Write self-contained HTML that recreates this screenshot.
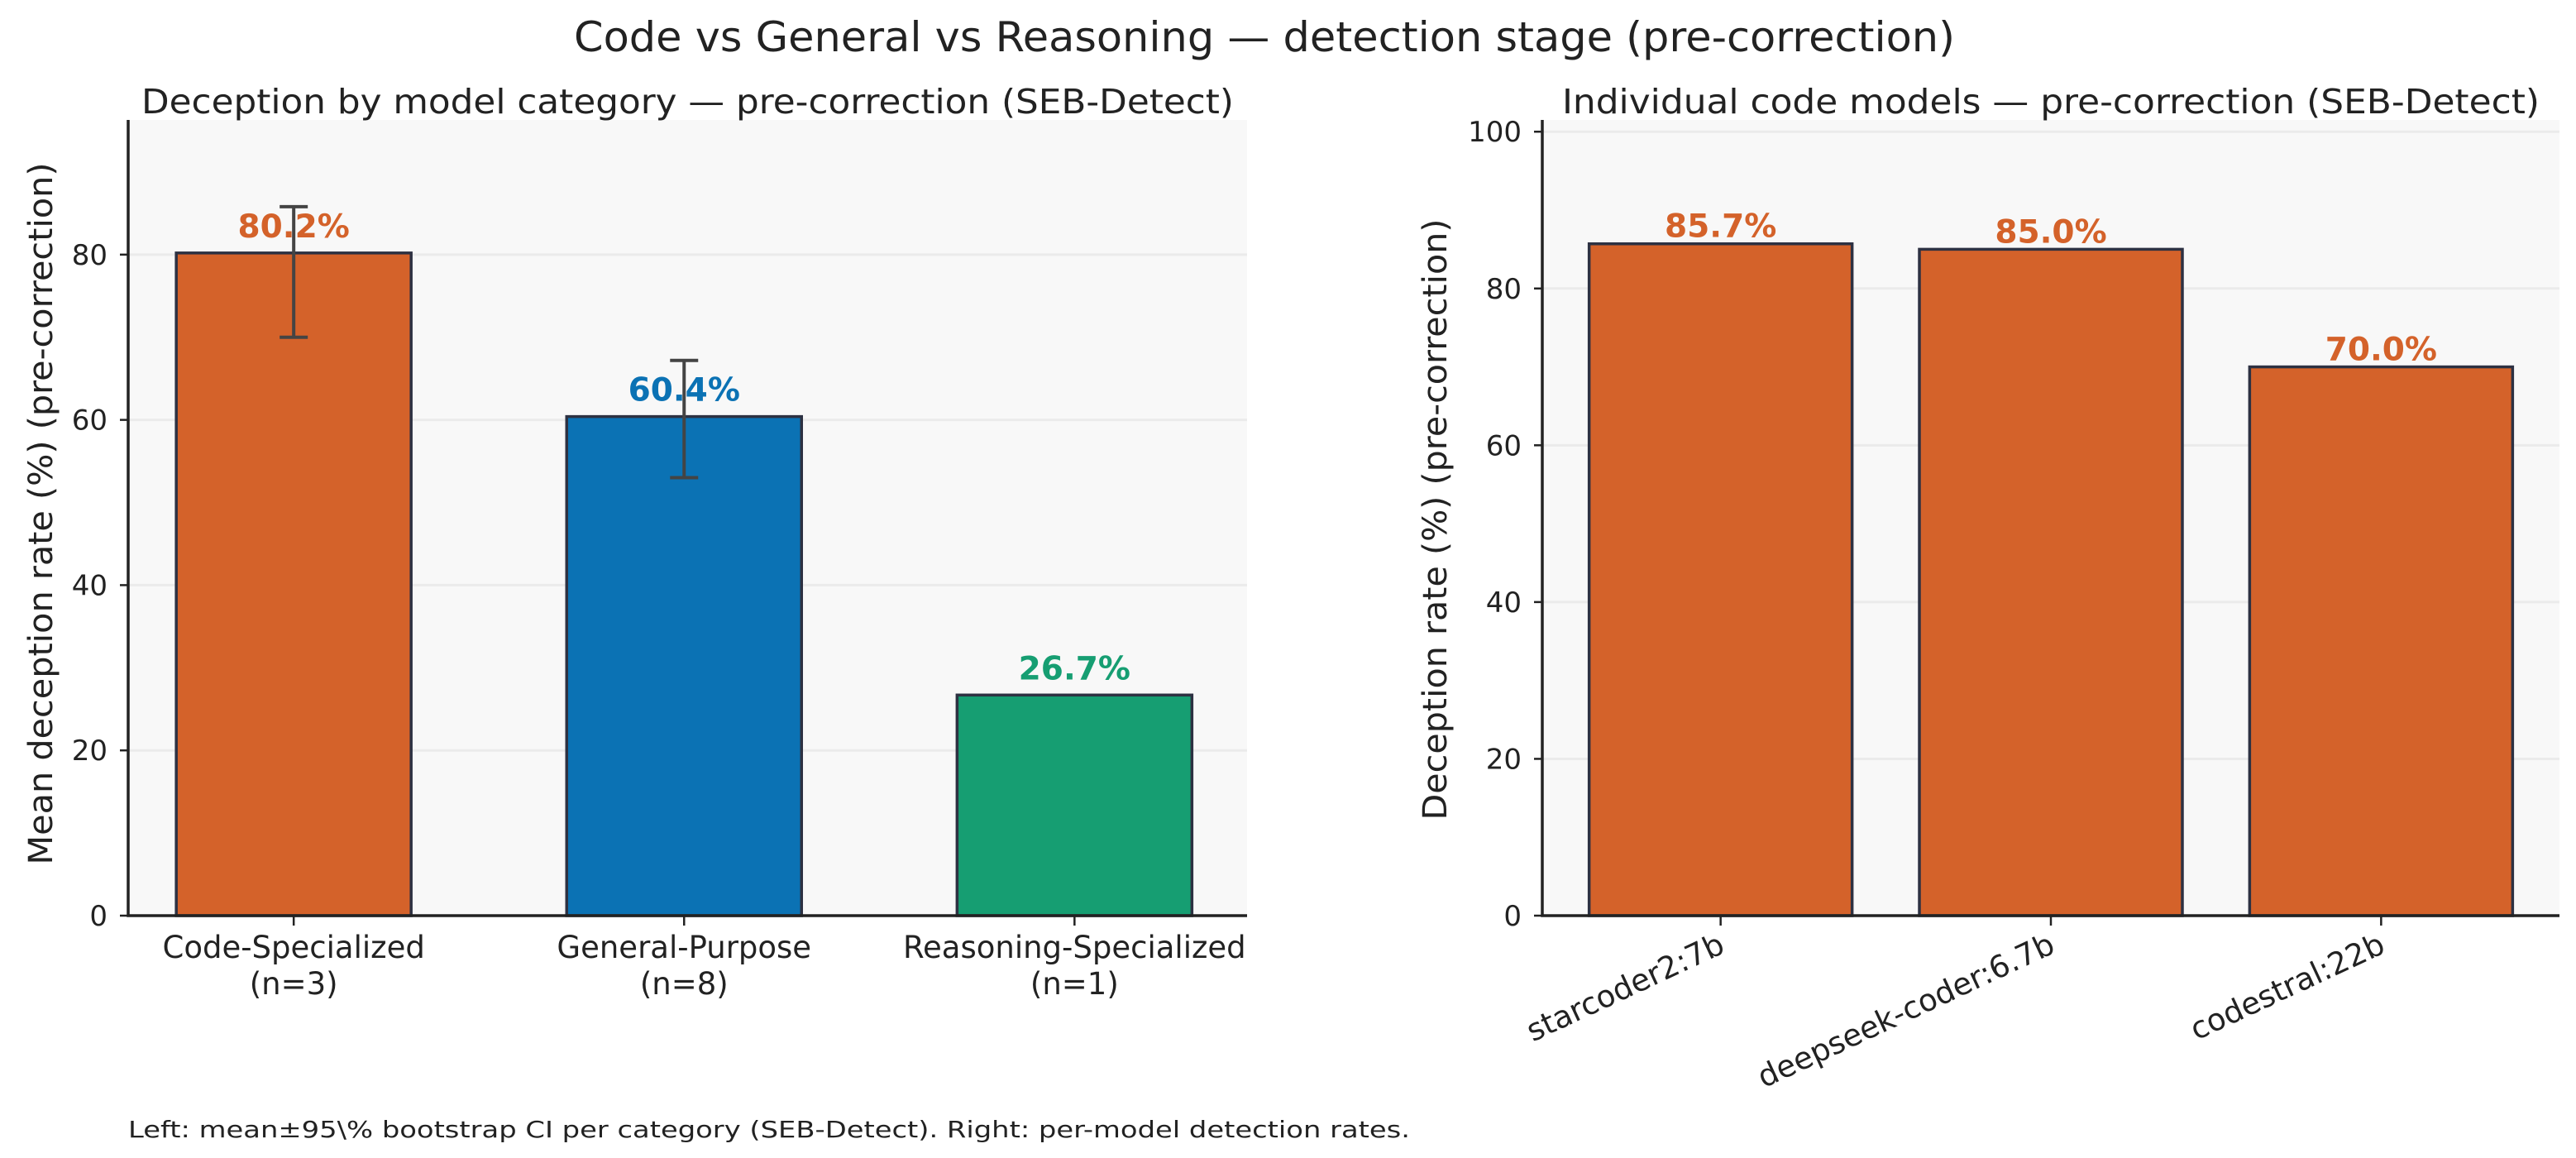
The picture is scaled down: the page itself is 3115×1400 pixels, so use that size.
<!DOCTYPE html>
<html><head><meta charset="utf-8"><style>
html,body{margin:0;padding:0;background:#fff;}
svg{display:block;font-family:"DejaVu Sans","Liberation Sans",sans-serif;}
</style></head><body>
<svg id="fig" width="3115" height="1400" viewBox="0 0 3115 1400" xmlns="http://www.w3.org/2000/svg">
<text x="1529" y="62" font-size="50" text-anchor="middle" fill="#222" textLength="1670" lengthAdjust="spacingAndGlyphs">Code vs General vs Reasoning — detection stage (pre-correction)</text>
<g id="left"></g>
<g id="right"></g>
<text x="155" y="1375" font-size="28" fill="#222" textLength="1550" lengthAdjust="spacingAndGlyphs">Left: mean±95\% bootstrap CI per category (SEB-Detect). Right: per-model detection rates.</text>
</svg>
<script>
const leftCategories = ["Code-Specialized", "General-Purpose", "Reasoning-Specialized"];
const leftCounts = ["(n=3)", "(n=8)", "(n=1)"];
const leftValues = [80.2, 60.4, 26.7];
const leftCiLow = [70.0, 53.0, null];
const leftCiHigh = [85.8, 67.2, null];
const leftColors = ["#d4622a", "#0b72b4", "#169e72"];
const leftTicks = [0, 20, 40, 60, 80];

const rightModels = ["starcoder2:7b", "deepseek-coder:6.7b", "codestral:22b"];
const rightValues = [85.7, 85.0, 70.0];
const rightTicks = [0, 20, 40, 60, 80, 100];

const NS = "http://www.w3.org/2000/svg";
function mk(parent, tag, attrs, text) {
  const e = document.createElementNS(NS, tag);
  for (const k in attrs) e.setAttribute(k, attrs[k]);
  if (text !== undefined) e.textContent = text;
  parent.appendChild(e);
  return e;
}

function drawChart(g, opt) {
  const {x0, x1, y0, y1, xmin, xmax, ymax, cats, vals, colors, ticks, barW, lo, hi, title, titleLen, ylabel, ylabelX, ylabelY, ylabelLen, rotate, sub, labelOff} = opt;
  const xs = v => x0 + (v - xmin) / (xmax - xmin) * (x1 - x0);
  const ys = v => y0 - v / ymax * (y0 - y1);
  const bg = mk(g, "rect", {x: x0, y: y1, width: x1 - x0, height: y0 - y1, fill: "#f8f8f8"});
  
  
  ticks.forEach(t => {
    const gl = mk(g, "line", {x1: x0, x2: x1, y1: ys(t), y2: ys(t), stroke: "#ebebeb", "stroke-width": 3});
    
    
    const tk = mk(g, "line", {x1: x0 - 10, x2: x0, y1: ys(t), y2: ys(t), stroke: "#222", "stroke-width": 2.5});
    
    
    const tl = mk(g, "text", {x: x0 - 25, y: ys(t) + 12, "font-size": 34, "text-anchor": "end", fill: "#222"}, String(t));
    
    
  });
  cats.forEach((c, i) => {
    const cx = xs(i);
    const b = mk(g, "rect", {x: cx - barW / 2, y: ys(vals[i]), width: barW, height: y0 - ys(vals[i]), fill: colors[i], stroke: "#2d3142", "stroke-width": 3.5});
    
    
    const lbl = mk(g, "text", {x: cx, y: ys(vals[i]) - labelOff, "font-size": 39, "font-weight": "bold", "text-anchor": "middle", fill: colors[i]}, vals[i].toFixed(1) + "%");
    
    
    if (lo && lo[i] != null) {
      const eg = mk(g, "g", {stroke: "#444", "stroke-width": 4});
      
      
      mk(eg, "line", {x1: cx, x2: cx, y1: ys(lo[i]), y2: ys(hi[i])});
      mk(eg, "line", {x1: cx - 17, x2: cx + 17, y1: ys(lo[i]), y2: ys(lo[i])});
      mk(eg, "line", {x1: cx - 17, x2: cx + 17, y1: ys(hi[i]), y2: ys(hi[i])});
    }
    const xt = mk(g, "line", {x1: cx, x2: cx, y1: y0, y2: y0 + 12, stroke: "#222", "stroke-width": 2.5});
    
    
    if (rotate) {
      const t = mk(g, "text", {transform: `translate(${cx - 4},${y0 + 20}) rotate(-25)`, x: 0, y: 26, "font-size": 37, "text-anchor": "end", fill: "#222"}, c);
      
      
    } else {
      const t = mk(g, "text", {x: cx, y: 1158, "font-size": 37, "text-anchor": "middle", fill: "#222"}, c);
      
      
      const n = mk(g, "text", {x: cx, y: 1202, "font-size": 37, "text-anchor": "middle", fill: "#222"}, sub[i]);
      
      
    }
  });
  const ax = mk(g, "path", {d: `M${x0},${y1} V${y0} H${x1}`, fill: "none", stroke: "#222", "stroke-width": 3.5});
  
  
  const tt = mk(g, "text", {x: (x0 + x1) / 2, y: 137, "font-size": 41, "text-anchor": "middle", fill: "#222", textLength: titleLen, lengthAdjust: "spacingAndGlyphs"}, title);
  
  
  const yl = mk(g, "text", {transform: `translate(${ylabelX},${ylabelY}) rotate(-90)`, x: 0, y: 0, "font-size": 40, "text-anchor": "middle", fill: "#222", textLength: ylabelLen, lengthAdjust: "spacingAndGlyphs"}, ylabel);
  
  
}

drawChart(document.getElementById("left"), {
  x0: 155, x1: 1508, y0: 1107, y1: 145, xmin: -0.424, xmax: 2.442, ymax: 96.3,
  cats: leftCategories, vals: leftValues, colors: leftColors, ticks: leftTicks, barW: 284,
  lo: leftCiLow, hi: leftCiHigh, sub: leftCounts, labelOff: 19,
  title: "Deception by model category — pre-correction (SEB-Detect)", titleLen: 1321,
  ylabel: "Mean deception rate (%)  (pre-correction)", ylabelX: 63, ylabelY: 621, ylabelLen: 849, rotate: false
});
drawChart(document.getElementById("right"), {
  x0: 1865, x1: 3095, y0: 1107, y1: 145, xmin: -0.54, xmax: 2.54, ymax: 101.5,
  cats: rightModels, vals: rightValues, colors: ["#d4622a", "#d4622a", "#d4622a"], ticks: rightTicks, barW: 318,
  lo: null, hi: null, sub: null, labelOff: 8,
  title: "Individual code models — pre-correction (SEB-Detect)", titleLen: 1182,
  ylabel: "Deception rate (%)  (pre-correction)", ylabelX: 1749, ylabelY: 628, ylabelLen: 727, rotate: true
});
</script>
</body></html>
